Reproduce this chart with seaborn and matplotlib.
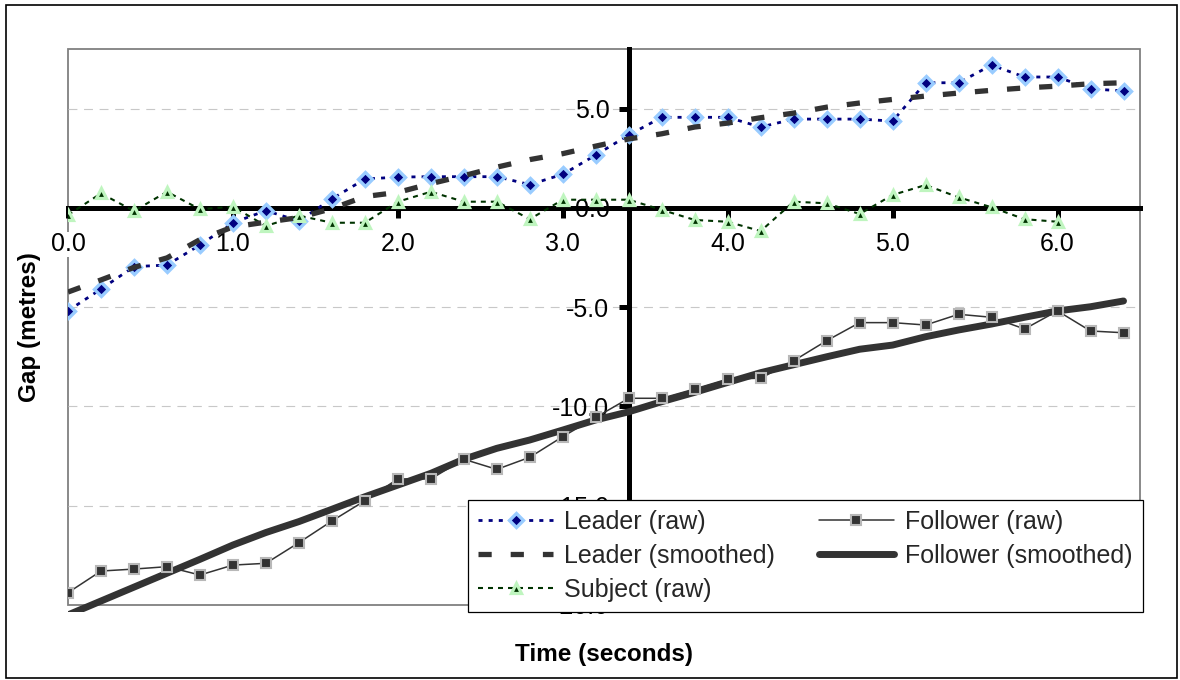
import matplotlib
matplotlib.use("Agg")
import matplotlib.pyplot as plt
import seaborn as sns
from matplotlib.patches import Rectangle
from matplotlib.transforms import Bbox, TransformedBbox

# Sample times (s)
time_s = [0.0, 0.2, 0.4, 0.6, 0.8, 1.0, 1.2, 1.4, 1.6, 1.8, 2.0, 2.2, 2.4, 2.6,
          2.8, 3.0, 3.2, 3.4, 3.6, 3.8, 4.0, 4.2, 4.4, 4.6, 4.8, 5.0, 5.2, 5.4,
          5.6, 5.8, 6.0, 6.2, 6.4]

# Gap to the subject vehicle (m)
leader_raw = [-5.18, -4.09, -2.96, -2.88, -1.87, -0.75, -0.14, -0.66, 0.45, 1.45,
              1.55, 1.57, 1.57, 1.57, 1.17, 1.69, 2.66, 3.67, 4.56, 4.56, 4.56,
              4.07, 4.47, 4.47, 4.47, 4.37, 6.30, 6.30, 7.19, 6.59, 6.59, 5.99, 5.89]
leader_smooth = [-4.24, -3.63, -3.00, -2.52, -1.60, -0.96, -0.72, -0.49, -0.04, 0.57,
                 0.78, 1.22, 1.62, 2.05, 2.43, 2.73, 3.11, 3.47, 3.73, 4.07, 4.27,
                 4.54, 4.77, 5.07, 5.28, 5.46, 5.63, 5.78, 5.92, 6.04, 6.13, 6.25, 6.30]
subject_raw = [-0.36, 0.73, -0.16, 0.81, -0.07, 0.06, -0.91, -0.39, -0.75, -0.75,
               0.31, 0.81, 0.31, 0.31, -0.57, 0.41, 0.41, 0.41, -0.10, -0.61, -0.70,
               -1.17, 0.31, 0.23, -0.31, 0.65, 1.15, 0.53, 0.03, -0.57, -0.70]
follower_raw = [-19.38, -18.29, -18.19, -18.07, -18.49, -17.99, -17.90, -16.86, -15.77,
                -14.75, -13.65, -13.65, -12.66, -13.17, -12.56, -11.52, -10.55, -9.59,
                -9.59, -9.12, -8.62, -8.58, -7.70, -6.69, -5.78, -5.78, -5.90, -5.36,
                -5.51, -6.10, -5.19, -6.20, -6.29]
follower_smooth = [-20.50, -19.80, -19.10, -18.40, -17.70, -16.98, -16.35, -15.80, -15.18,
                   -14.55, -13.96, -13.37, -12.66, -12.11, -11.69, -11.19, -10.68, -10.27,
                   -9.76, -9.29, -8.79, -8.30, -7.90, -7.50, -7.12, -6.91, -6.49, -6.15,
                   -5.85, -5.51, -5.19, -4.98, -4.69]

x_ticks = [0, 1, 2, 3, 4, 5, 6]
y_ticks = [-20, -15, -10, -5, 0, 5]
x_crossing = 3.4

sns.set_theme(style="white")
plt.rcParams["font.family"] = ["Liberation Sans", "DejaVu Sans"]
plt.rcParams["axes.unicode_minus"] = False

W, H = 1180, 680
fig = plt.figure(figsize=(W / 100, H / 100), dpi=100)
ax = fig.add_axes([68 / W, 1 - 605 / H, (1140 - 68) / W, (605 - 49) / H])


def draw(x, y, **kw):
    sns.lineplot(x=x, y=y, ax=ax, legend=False, errorbar=None, **kw)
    return ax.lines[-1]


h_fs = draw(time_s, follower_smooth, color="#333333", lw=5.0,
            solid_capstyle="round", zorder=3)
h_fr = draw(time_s, follower_raw, color="#333333", lw=1.1, marker="s", markersize=6.5,
            markerfacecolor="#333333", markeredgecolor="#b8b8b8",
            markeredgewidth=1.5, zorder=4)
h_lr = draw(time_s, leader_raw, color="#000080", lw=2.0, linestyle=(0, (1.45, 2.2)),
            marker="D", markersize=7.5, markerfacecolor="#000080",
            markeredgecolor="#99ccff", markeredgewidth=2.4, zorder=4)
h_ls = draw(time_s, leader_smooth, color="#333333", lw=3.8,
            linestyle=(0, (2.5, 3.6)), dash_capstyle="butt", zorder=5)
h_sr = draw(time_s[:len(subject_raw)], subject_raw, color="#003300", lw=1.5,
            linestyle=(0, (2.4, 2.4)), marker="^", markersize=7.5,
            markerfacecolor="#003300", markeredgecolor="#bff5bf",
            markeredgewidth=2.3, zorder=4)

# let the thick smoothed follower line run slightly past the plot floor
h_fs.set_clip_box(TransformedBbox(Bbox([[0, -0.012], [1, 1]]), ax.transAxes))

ax.set_xlim(0, 6.5)
ax.set_ylim(-20, 8)
ax.set_xticks(x_ticks)
ax.set_yticks(y_ticks)
ax.set_xticklabels([f"{v:.1f}" for v in x_ticks])
ax.set_yticklabels([f"{v:.1f}" for v in y_ticks])

# axes cross at (3.4, 0)
for side in ("top", "right"):
    ax.spines[side].set_visible(False)
ax.spines["left"].set_position(("data", x_crossing))
ax.spines["bottom"].set_position(("data", 0))
for side in ("left", "bottom"):
    ax.spines[side].set_color("black")
    ax.spines[side].set_linewidth(3.6)
    ax.spines[side].set_zorder(2.6)

# grey plot-area frame
ax.add_patch(Rectangle((0, 0), 1, 1, transform=ax.transAxes, fill=False,
                       edgecolor="#808080", lw=1.3, zorder=1, clip_on=False))

ax.set_axisbelow(False)
ax.yaxis.grid(True, color="#c8c8c8", lw=0.8, linestyle=(0, (8, 6)))
ax.xaxis.grid(False)
ax.yaxis.get_gridlines()[0].set_visible(False)

ax.tick_params(axis="both", which="major", direction="out", length=7, width=3.6,
               color="black", labelsize=18, labelcolor="black",
               bottom=True, left=True)
ax.tick_params(axis="x", pad=10.6)
ax.tick_params(axis="y", pad=6.9)
for lbl in ax.get_xticklabels():
    lbl.set_bbox(dict(facecolor="white", edgecolor="none", pad=0.5))

ax.set_xlabel("Time (seconds)", fontsize=17.5, fontweight="bold", color="black")
ax.xaxis.set_label_coords(0.5, (605 - 654) / (605 - 49))
ax.xaxis.label.set_va("center")
ax.set_ylabel("Gap (metres)", fontsize=17.5, fontweight="bold", color="black")
ax.yaxis.set_label_coords((30 - 68) / (1140 - 68), 0.5)
ax.yaxis.label.set_va("center")
ax.yaxis.label.set_ha("center")

leg = ax.legend(
    handles=[h_lr, h_ls, h_sr, h_fr, h_fs],
    labels=["Leader (raw)", "Leader (smoothed)", "Subject (raw)",
            "Follower (raw)", "Follower (smoothed)"],
    ncol=2, loc="upper left", bbox_to_anchor=(468 / W, 1 - 500 / H),
    bbox_transform=fig.transFigure, borderaxespad=0, frameon=True,
    fancybox=False, edgecolor="black", framealpha=1, fontsize=18,
    handlelength=3.0, handletextpad=0.45, columnspacing=1.75,
    labelspacing=0.4, borderpad=0.4)
leg.get_frame().set_linewidth(0.9)
leg.set_zorder(10)

# outer chart border
fig.add_artist(Rectangle((6 / W, 1 - 678 / H), (1177 - 6) / W, (678 - 5) / H,
                         transform=fig.transFigure, fill=False,
                         edgecolor="black", lw=1.2))

fig.savefig("out.png", dpi=100)
